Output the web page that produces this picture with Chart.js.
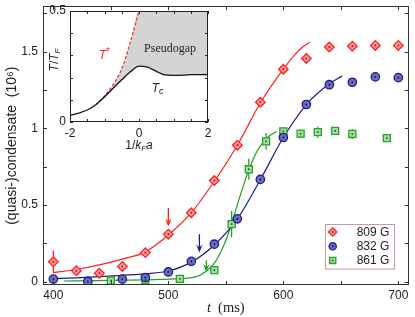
<!DOCTYPE html>
<html>
<head>
<meta charset="utf-8">
<script src="https://cdn.jsdelivr.net/npm/chart.js@4.4.0/dist/chart.umd.min.js"></script>
<style>
  html, body { margin: 0; padding: 0; background: #fff; }
  #wrap { position: relative; width: 415px; height: 317px; }
  #main { position: absolute; left: 0; top: 0; }
  #inset { position: absolute; left: 40px; top: 0; }
</style>
</head>
<body>
<div id="wrap">
  <canvas id="main" width="415" height="317"></canvas>
  <canvas id="inset" width="180" height="155"></canvas>
</div>
<script>
// measured (quasi-)condensate, t in ms, number in 10^6
const t809 = [400, 420, 440, 460, 480, 500, 520, 540, 560, 580, 600, 620, 640, 660, 680, 700];
const n809 = [0.13, 0.072, 0.056, 0.10, 0.19, 0.31, 0.45, 0.66, 0.89, 1.17, 1.385, 1.455, 1.53, 1.535, 1.54, 1.54];
const err809 = [0.073, 0, 0, 0, 0, 0, 0, 0, 0, 0, 0, 0, 0, 0, 0, 0];

const t832 = [400, 430, 460, 480, 500, 520, 540, 560, 580, 600, 620, 640, 660, 680, 700];
const n832 = [0.017, 0.002, 0.017, 0.028, 0.064, 0.133, 0.245, 0.41, 0.667, 0.94, 1.155, 1.284, 1.30, 1.335, 1.33];
const err832 = [0, 0, 0, 0.022, 0, 0, 0, 0, 0, 0, 0, 0, 0, 0, 0];

const t861 = [450, 480, 510, 540, 555, 570, 585, 600, 615, 630, 645, 660, 690];
const n861 = [0.008, 0.012, 0.019, 0.076, 0.376, 0.733, 0.915, 0.98, 0.965, 0.975, 0.983, 0.963, 0.936];
const err861 = [0, 0, 0, 0, 0.085, 0.068, 0.055, 0, 0.026, 0.037, 0, 0.032, 0];

// fitted curves
const fitT809 = [400, 420, 440, 460, 480, 500, 520, 540, 560, 580, 600, 610, 616, 623];
const fit809 = [0.06, 0.08, 0.11, 0.148, 0.195, 0.305, 0.45, 0.655, 0.89, 1.165, 1.385, 1.48, 1.525, 1.56];
const fitT832 = [398, 420, 440, 460, 480, 500, 520, 540, 560, 580, 600, 620, 640, 651];
const fit832 = [0.02, 0.026, 0.033, 0.042, 0.052, 0.07, 0.128, 0.24, 0.41, 0.665, 0.94, 1.155, 1.29, 1.34];
const fitT861 = [409, 440, 480, 510, 525, 532, 540, 546, 552, 557, 565, 570, 575, 580, 587, 594];
const fit861 = [0.005, 0.008, 0.013, 0.02, 0.035, 0.064, 0.12, 0.2, 0.31, 0.43, 0.62, 0.73, 0.82, 0.885, 0.945, 0.98];

// arrows marking the onset
const arrowT = [500, 527, 533];
const arrowFrom = [0.48, 0.31, 0.14];
const arrowTo = [0.36, 0.19, 0.064];

const seriesLabels = ['809 G', '832 G', '861 G'];
const xTickLabels = [400, 500, 600, 700];
const yTickLabels = [0, 0.5, 1, 1.5];

// inset: phase diagram
const invKfa = [-2, -1.75, -1.5, -1.25, -1, -0.75, -0.5, -0.25, 0, 0.25, 0.5, 0.75, 1, 1.5, 2];
const tcVals = [0.03, 0.04, 0.054, 0.078, 0.113, 0.152, 0.19, 0.226, 0.252, 0.247, 0.228, 0.212, 0.21, 0.213, 0.214];
const gapTop = [0.03, 0.04, 0.054, 0.078, 0.118, 0.168, 0.24, 0.36, 0.5, 0.5, 0.5, 0.5, 0.5, 0.5, 0.5];
const tStarX = [-1.25, -1, -0.75, -0.5, -0.25, 0];
const tStarVals = [0.078, 0.118, 0.168, 0.24, 0.36, 0.5];
const insetXTicks = [-2, 0, 2];
const insetYTicks = [0, 0.5];

const colors = [
  { line: '#ff2020', border: '#ff2020', fill: '#ff9c9c', dot: '#a00000' },
  { line: '#1c1c8c', border: '#1c1c8c', fill: '#6c6cb8', dot: '#10105a' },
  { line: '#22a022', border: '#2ca02c', fill: '#a4dca4', dot: '#106010' }
];
const styles = ['rectRot', 'circle', 'rect'];
const radii = [4.8, 4.2, 5];

const sans = "'Liberation Sans', Arial, sans-serif";
const serif = "'Liberation Serif', 'Times New Roman', serif";
Chart.defaults.font.family = sans;
Chart.defaults.color = '#222';

const pts = (xs, ys) => xs.map((x, i) => ({ x: x, y: ys[i] }));

function markerSet(i, xs, ys) {
  return {
    label: seriesLabels[i],
    data: pts(xs, ys),
    showLine: false,
    pointStyle: styles[i],
    pointRadius: radii[i],
    pointBackgroundColor: colors[i].fill,
    pointBorderColor: colors[i].border,
    pointBorderWidth: 1.3
  };
}

function fitSet(i, xs, ys) {
  return {
    data: pts(xs, ys),
    borderColor: colors[i].line,
    borderWidth: 1.2,
    pointRadius: 0,
    cubicInterpolationMode: 'monotone',
    fill: false
  };
}

function steps(from, to, step) {
  const out = [];
  for (let v = from; v <= to + 1e-9; v += step) out.push(v);
  return out;
}

// frame round the plot area with inward ticks on all sides
function drawFrame(chart, xs, ys, len, color) {
  const { ctx, chartArea: a, scales } = chart;
  ctx.save();
  ctx.strokeStyle = color;
  ctx.lineWidth = 1;
  ctx.beginPath();
  xs.forEach(v => {
    const px = Math.round(scales.x.getPixelForValue(v)) + 0.5;
    ctx.moveTo(px, a.top); ctx.lineTo(px, a.top + len);
    ctx.moveTo(px, a.bottom); ctx.lineTo(px, a.bottom - len);
  });
  ys.forEach(v => {
    const py = Math.round(scales.y.getPixelForValue(v)) + 0.5;
    ctx.moveTo(a.left, py); ctx.lineTo(a.left + len, py);
    ctx.moveTo(a.right, py); ctx.lineTo(a.right - len, py);
  });
  ctx.stroke();
  ctx.strokeRect(Math.round(a.left) + 0.5, Math.round(a.top) + 0.5,
    Math.round(a.right - a.left) - 1, Math.round(a.bottom - a.top) - 1);
  ctx.restore();
}

// draw text made of runs (italic, sub/superscripts)
function drawRuns(ctx, runs, x, y, align) {
  let total = 0;
  runs.forEach(r => { ctx.font = r.font; total += ctx.measureText(r.text).width + (r.gap || 0); });
  let cx = align === 'center' ? x - total / 2 : x;
  runs.forEach(r => {
    ctx.font = r.font;
    ctx.fillText(r.text, cx, y + (r.dy || 0));
    cx += ctx.measureText(r.text).width + (r.gap || 0);
  });
}

function drawMarker(ctx, style, x, y, r) {
  ctx.beginPath();
  if (style === 'circle') {
    ctx.arc(x, y, r, 0, Math.PI * 2);
  } else if (style === 'rectRot') {
    ctx.moveTo(x, y - r); ctx.lineTo(x + r, y); ctx.lineTo(x, y + r); ctx.lineTo(x - r, y);
    ctx.closePath();
  } else {
    const s = r * Math.SQRT1_2;
    ctx.rect(x - s, y - s, 2 * s, 2 * s);
  }
  ctx.fill();
  ctx.stroke();
}

const mainDecor = {
  id: 'mainDecor',
  beforeDatasetsDraw(chart) {
    const { ctx, scales: { x, y } } = chart;
    ctx.save();
    ctx.lineWidth = 1.3;
    // error bars
    [[t809, n809, err809], [t832, n832, err832], [t861, n861, err861]].forEach((s, i) => {
      ctx.strokeStyle = colors[i].line;
      ctx.beginPath();
      s[0].forEach((t, k) => {
        if (!s[2][k]) return;
        const px = x.getPixelForValue(t);
        ctx.moveTo(px, y.getPixelForValue(s[1][k] + s[2][k]));
        ctx.lineTo(px, y.getPixelForValue(s[1][k] - s[2][k]));
      });
      ctx.stroke();
    });
    // arrows
    arrowT.forEach((t, i) => {
      const px = x.getPixelForValue(t);
      const y0 = y.getPixelForValue(arrowFrom[i]);
      const y1 = y.getPixelForValue(arrowTo[i]);
      ctx.strokeStyle = colors[i].line;
      ctx.fillStyle = colors[i].line;
      ctx.beginPath();
      ctx.moveTo(px, y0); ctx.lineTo(px, y1 - 2);
      ctx.stroke();
      ctx.beginPath();
      ctx.moveTo(px, y1);
      ctx.lineTo(px - 3.2, y1 - 8);
      ctx.lineTo(px, y1 - 5);
      ctx.lineTo(px + 3.2, y1 - 8);
      ctx.closePath();
      ctx.fill();
    });
    ctx.restore();
  },
  afterDatasetsDraw(chart) {
    const ctx = chart.ctx;
    ctx.save();
    for (let i = 0; i < 3; i++) {
      ctx.fillStyle = colors[i].dot;
      chart.getDatasetMeta(i).data.forEach(p => ctx.fillRect(p.x - 0.8, p.y - 0.8, 1.6, 1.6));
    }
    ctx.restore();
  },
  afterDraw(chart) {
    const { ctx, chartArea: a } = chart;
    drawFrame(chart, steps(400, 700, 50), steps(0, 1.75, 0.25), 4, '#333');

    // legend box
    ctx.save();
    const bx = a.right - 84, by = a.bottom - 61, bw = 69, bh = 44.5;
    ctx.fillStyle = '#fff';
    ctx.fillRect(bx, by, bw, bh);
    ctx.strokeStyle = '#c89a9a';
    ctx.lineWidth = 1;
    ctx.strokeRect(Math.round(bx) + 0.5, Math.round(by) + 0.5, bw, bh);
    ctx.font = '12px ' + sans;
    ctx.textBaseline = 'middle';
    seriesLabels.forEach((lab, i) => {
      const ry = by + 8 + i * 14.2;
      ctx.fillStyle = colors[i].fill;
      ctx.strokeStyle = colors[i].border;
      ctx.lineWidth = 1.3;
      drawMarker(ctx, styles[i], bx + 8, ry, radii[i] - 0.6);
      ctx.fillStyle = colors[i].dot;
      ctx.fillRect(bx + 8 - 0.8, ry - 0.8, 1.6, 1.6);
      ctx.fillStyle = '#222';
      ctx.fillText(lab, bx + 32, ry + 0.5);
    });

    // x axis title
    ctx.fillStyle = '#222';
    ctx.textBaseline = 'alphabetic';
    drawRuns(ctx, [
      { text: 't', font: 'italic 14.5px ' + serif, gap: 7 },
      { text: '(ms)', font: '14.5px ' + serif }
    ], (a.left + a.right) / 2, 312, 'center');
    ctx.restore();
  }
};

new Chart(document.getElementById('main'), {
  type: 'line',
  data: {
    datasets: [
      markerSet(0, t809, n809),
      markerSet(1, t832, n832),
      markerSet(2, t861, n861),
      fitSet(0, fitT809, fit809),
      fitSet(1, fitT832, fit832),
      fitSet(2, fitT861, fit861)
    ]
  },
  options: {
    responsive: false,
    animation: false,
    events: [],
    layout: { padding: { top: 2, right: 2, left: 0, bottom: 0 } },
    plugins: { legend: { display: false }, tooltip: { enabled: false } },
    scales: {
      x: {
        type: 'linear', min: 391, max: 709,
        grid: { display: false, drawTicks: false }, border: { display: false },
        ticks: { padding: 3, autoSkip: false, maxRotation: 0, font: { size: 12 } },
        afterBuildTicks: s => { s.ticks = xTickLabels.map(v => ({ value: v })); },
        afterFit: s => { s.height = 32; s.paddingLeft = 0; s.paddingRight = 0; }
      },
      y: {
        type: 'linear', min: -0.021, max: 1.795,
        grid: { display: false, drawTicks: false }, border: { display: false },
        ticks: { padding: 5, autoSkip: false, font: { size: 12 }, callback: v => String(v) },
        afterBuildTicks: s => { s.ticks = yTickLabels.map(v => ({ value: v })); },
        afterFit: s => { s.width = 43; s.paddingTop = 0; s.paddingBottom = 0; },
        title: {
          display: true, text: '(quasi-)condensate  (10\u2076)',
          font: { size: 14 }, padding: { top: 4, bottom: 4 }
        }
      }
    }
  },
  plugins: [mainDecor]
});

const insetDecor = {
  id: 'insetDecor',
  afterDraw(chart) {
    const { ctx, chartArea: a, scales: { x, y } } = chart;
    drawFrame(chart, steps(-2, 2, 0.5), steps(0, 0.5, 0.1), 3, '#222');
    ctx.save();
    ctx.textBaseline = 'middle';
    ctx.fillStyle = '#222';
    ctx.font = '12px ' + serif;
    ctx.textAlign = 'center';
    ctx.fillText('Pseudogap', x.getPixelForValue(0.9), y.getPixelForValue(0.33));
    ctx.textAlign = 'left';
    ctx.fillStyle = '#ff2020';
    drawRuns(ctx, [
      { text: 'T', font: 'italic 12px ' + sans },
      { text: '*', font: '10px ' + sans, dy: -4 }
    ], x.getPixelForValue(-1.17), y.getPixelForValue(0.297), 'left');
    ctx.fillStyle = '#222';
    drawRuns(ctx, [
      { text: 'T', font: 'italic 12px ' + sans },
      { text: 'c', font: 'italic 9px ' + sans, dy: 3 }
    ], x.getPixelForValue(0.37), y.getPixelForValue(0.151), 'left');
    // axis titles
    drawRuns(ctx, [
      { text: '1/', font: '12px ' + sans },
      { text: 'k', font: 'italic 12px ' + sans },
      { text: 'F', font: 'italic 8px ' + sans, dy: 3 },
      { text: 'a', font: 'italic 12px ' + sans }
    ], (a.left + a.right) / 2, 146, 'center');
    ctx.translate(15, 60);
    ctx.rotate(-Math.PI / 2);
    drawRuns(ctx, [
      { text: 'T', font: 'italic 12px ' + sans },
      { text: '/', font: '12px ' + sans },
      { text: 'T', font: 'italic 12px ' + sans },
      { text: 'F', font: 'italic 8px ' + sans, dy: 3 }
    ], 0, 0, 'center');
    ctx.restore();
  }
};

new Chart(document.getElementById('inset'), {
  type: 'line',
  data: {
    datasets: [
      { data: pts(invKfa, gapTop), borderWidth: 0, borderColor: 'rgba(0,0,0,0)', pointRadius: 0,
        cubicInterpolationMode: 'monotone', fill: false },
      { data: pts(invKfa, tcVals), borderColor: '#111', borderWidth: 1.3, pointRadius: 0,
        cubicInterpolationMode: 'monotone', fill: { target: 0 }, backgroundColor: '#d4d4d4' },
      { data: pts(tStarX, tStarVals), borderColor: '#ff2020', borderWidth: 1.2, borderDash: [3, 2],
        pointRadius: 0, cubicInterpolationMode: 'monotone', fill: false }
    ]
  },
  options: {
    responsive: false,
    animation: false,
    events: [],
    layout: { padding: { top: 11, right: 12, left: 0, bottom: 0 } },
    plugins: { legend: { display: false }, tooltip: { enabled: false }, filler: { drawTime: 'beforeDatasetsDraw' } },
    scales: {
      x: {
        type: 'linear', min: -2, max: 2,
        grid: { display: false, drawTicks: false }, border: { display: false },
        ticks: { padding: 4, autoSkip: false, maxRotation: 0, font: { size: 12 } },
        afterBuildTicks: s => { s.ticks = insetXTicks.map(v => ({ value: v })); },
        afterFit: s => { s.height = 33; s.paddingLeft = 0; s.paddingRight = 0; }
      },
      y: {
        type: 'linear', min: 0, max: 0.5,
        grid: { display: false, drawTicks: false }, border: { display: false },
        ticks: { padding: 4, autoSkip: false, font: { size: 12 }, callback: v => String(v) },
        afterBuildTicks: s => { s.ticks = insetYTicks.map(v => ({ value: v })); },
        afterFit: s => { s.width = 30; s.paddingTop = 0; s.paddingBottom = 0; }
      }
    }
  },
  plugins: [insetDecor]
});
</script>
</body>
</html>
